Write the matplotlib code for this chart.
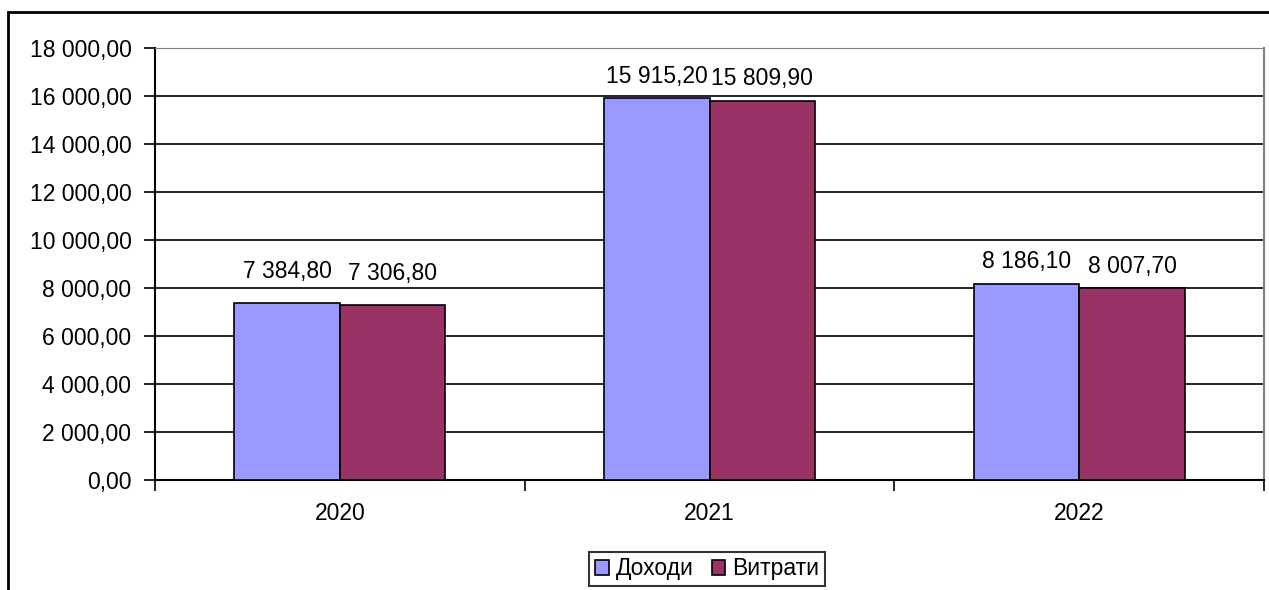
import numpy as np
import matplotlib.pyplot as plt
from matplotlib.patches import Rectangle
from matplotlib.ticker import FuncFormatter

plt.rcParams['font.family'] = ['Liberation Sans', 'DejaVu Sans']

years = ['2020', '2021', '2022']
income = [7384.80, 15915.20, 8186.10]
expenses = [7306.80, 15809.90, 8007.70]
series_names = ['Доходи', 'Витрати']
colors = ['#9999FF', '#993366']

# label lift above each bar top (points), per year
label_lift = [18, 11, 11]


def ua_fmt(v, pos=None):
    s = f'{v:,.2f}'
    return s.replace(',', ' ').replace('.', ',')


fig = plt.figure(figsize=(12.69, 5.90), dpi=100)
ax = fig.add_axes([155 / 1269, 1 - 480 / 590, (1264 - 155) / 1269, (480 - 48) / 590])

x = np.arange(len(years))
w = 1 / 3.5
b1 = ax.bar(x - w / 2, income, w, color=colors[0], edgecolor='black', linewidth=1.2,
            label=series_names[0], zorder=3)
b2 = ax.bar(x + w / 2, expenses, w, color=colors[1], edgecolor='black', linewidth=1.2,
            label=series_names[1], zorder=3)

for bars in (b1, b2):
    for i, r in enumerate(bars):
        ax.annotate(ua_fmt(r.get_height()), (r.get_x() + r.get_width() / 2, r.get_height()),
                    xytext=(0, label_lift[i]), textcoords='offset points', ha='center',
                    va='baseline', fontsize=16.5)

ax.set_xlim(-0.5, 2.5)
ax.set_ylim(0, 18000)
ax.set_yticks(np.arange(0, 18001, 2000))
ax.yaxis.set_major_formatter(FuncFormatter(ua_fmt))
ax.yaxis.grid(True, color='black', linewidth=1.2, zorder=0)

ax.set_xticks(x)
ax.set_xticklabels(years)
ax.set_xticks([-0.5, 0.5, 1.5, 2.5], minor=True)
ax.tick_params(axis='x', which='major', length=0, pad=16, labelsize=16.5)
ax.tick_params(axis='x', which='minor', length=8, width=1.2, direction='out')
ax.tick_params(axis='y', length=8, width=1.2, direction='out', pad=9, labelsize=16.5)

ax.spines['left'].set_linewidth(1.5)
ax.spines['bottom'].set_linewidth(1.5)
ax.spines['top'].set_color('#808080')
ax.spines['right'].set_color('#808080')
ax.spines['right'].set_linewidth(1.5)

leg = fig.legend(loc='center', bbox_to_anchor=(707 / 1269, 1 - 569 / 590), ncol=2,
                 fontsize=16.5, frameon=True, fancybox=False, edgecolor='black',
                 handlelength=0.6, handleheight=0.6, handletextpad=0.3, columnspacing=0.8,
                 borderpad=0.25)
leg.get_frame().set_linewidth(1.5)

fig.patches.append(Rectangle((8 / 1269, -0.1), 1.2, 1 - 12 / 590 + 0.1, transform=fig.transFigure,
                             fill=False, edgecolor='black', linewidth=2))

fig.savefig('out.png', dpi=100)
